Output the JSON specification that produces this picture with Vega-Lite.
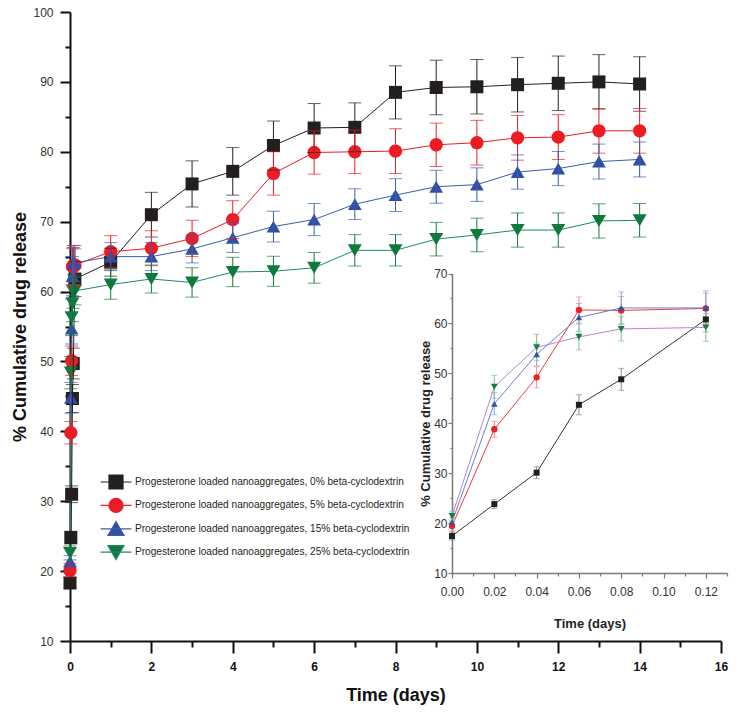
{
  "$schema": "https://vega.github.io/schema/vega-lite/v6.json",
  "autosize": {"type": "none"},
  "width": 651,
  "height": 629,
  "padding": {"left": 70, "top": 12, "right": 15, "bottom": 71},
  "background": "white",
  "config": {"font": "Liberation Sans", "view": {"stroke": null}, "axis": {"grid": false, "labelFlush": false, "labelOverlap": false}},
  "datasets": {
    "main": [
      {"s":"0%","t":0,"v":18.3,"e":0.8},{"s":"0%","t":0.02,"v":24.8,"e":0.9},{"s":"0%","t":0.04,"v":31.0,"e":1.2},{"s":"0%","t":0.06,"v":44.7,"e":2.0},{"s":"0%","t":0.08,"v":49.7,"e":2.2},{"s":"0%","t":0.12,"v":61.8,"e":2.5},
      {"s":"0%","t":1,"v":64.2,"e":2.0},{"s":"0%","t":2,"v":71.0,"e":3.2},{"s":"0%","t":3,"v":75.4,"e":3.3},{"s":"0%","t":4,"v":77.2,"e":3.4},{"s":"0%","t":5,"v":80.9,"e":3.5},{"s":"0%","t":6,"v":83.4,"e":3.5},{"s":"0%","t":7,"v":83.5,"e":3.5},{"s":"0%","t":8,"v":88.5,"e":3.8},{"s":"0%","t":9,"v":89.2,"e":3.9},{"s":"0%","t":10,"v":89.3,"e":3.9},{"s":"0%","t":11,"v":89.6,"e":3.9},{"s":"0%","t":12,"v":89.8,"e":3.9},{"s":"0%","t":13,"v":90.0,"e":3.9},{"s":"0%","t":14,"v":89.7,"e":3.9},
      {"s":"5%","t":0,"v":20.1,"e":1.0},{"s":"5%","t":0.02,"v":39.8,"e":1.6},{"s":"5%","t":0.04,"v":50.1,"e":2.1},{"s":"5%","t":0.06,"v":63.6,"e":2.6},{"s":"5%","t":0.08,"v":63.5,"e":2.8},{"s":"5%","t":0.12,"v":63.8,"e":2.8},
      {"s":"5%","t":1,"v":65.7,"e":2.3},{"s":"5%","t":2,"v":66.2,"e":2.5},{"s":"5%","t":3,"v":67.6,"e":2.6},{"s":"5%","t":4,"v":70.3,"e":2.7},{"s":"5%","t":5,"v":76.9,"e":3.1},{"s":"5%","t":6,"v":79.9,"e":3.1},{"s":"5%","t":7,"v":80.0,"e":3.1},{"s":"5%","t":8,"v":80.1,"e":3.2},{"s":"5%","t":9,"v":81.0,"e":3.1},{"s":"5%","t":10,"v":81.3,"e":3.2},{"s":"5%","t":11,"v":82.0,"e":3.2},{"s":"5%","t":12,"v":82.1,"e":3.2},{"s":"5%","t":13,"v":83.0,"e":3.2},{"s":"5%","t":14,"v":83.0,"e":3.2},
      {"s":"15%","t":0,"v":21.4,"e":0.8},{"s":"15%","t":0.02,"v":44.8,"e":2.2},{"s":"15%","t":0.04,"v":54.7,"e":2.2},{"s":"15%","t":0.06,"v":62.2,"e":2.8},{"s":"15%","t":0.08,"v":64.0,"e":2.6},{"s":"15%","t":0.12,"v":64.1,"e":2.0},
      {"s":"15%","t":1,"v":65.0,"e":2.0},{"s":"15%","t":2,"v":65.0,"e":2.0},{"s":"15%","t":3,"v":66.1,"e":2.0},{"s":"15%","t":4,"v":67.7,"e":2.1},{"s":"15%","t":5,"v":69.3,"e":2.2},{"s":"15%","t":6,"v":70.3,"e":2.3},{"s":"15%","t":7,"v":72.5,"e":2.2},{"s":"15%","t":8,"v":73.8,"e":2.35},{"s":"15%","t":9,"v":75.0,"e":2.35},{"s":"15%","t":10,"v":75.3,"e":2.4},{"s":"15%","t":11,"v":77.1,"e":2.45},{"s":"15%","t":12,"v":77.6,"e":2.45},{"s":"15%","t":13,"v":78.6,"e":2.5},{"s":"15%","t":14,"v":78.9,"e":2.5},
      {"s":"25%","t":0,"v":22.6,"e":1.0},{"s":"25%","t":0.02,"v":48.4,"e":2.3},{"s":"25%","t":0.04,"v":56.3,"e":2.6},{"s":"25%","t":0.06,"v":58.3,"e":2.6},{"s":"25%","t":0.08,"v":60.0,"e":2.4},{"s":"25%","t":0.12,"v":60.1,"e":2.0},
      {"s":"25%","t":1,"v":61.0,"e":2.1},{"s":"25%","t":2,"v":61.8,"e":2.0},{"s":"25%","t":3,"v":61.3,"e":2.1},{"s":"25%","t":4,"v":62.8,"e":2.1},{"s":"25%","t":5,"v":62.9,"e":2.15},{"s":"25%","t":6,"v":63.4,"e":2.2},{"s":"25%","t":7,"v":65.9,"e":2.25},{"s":"25%","t":8,"v":65.9,"e":2.25},{"s":"25%","t":9,"v":67.5,"e":2.4},{"s":"25%","t":10,"v":68.1,"e":2.4},{"s":"25%","t":11,"v":68.8,"e":2.45},{"s":"25%","t":12,"v":68.8,"e":2.45},{"s":"25%","t":13,"v":70.1,"e":2.45},{"s":"25%","t":14,"v":70.2,"e":2.4}
    ],
    "inset": [
      {"s":"0%","t":0,"v":17.4,"e":0.8},{"s":"0%","t":0.02,"v":23.8,"e":0.9},{"s":"0%","t":0.04,"v":30.1,"e":1.2},{"s":"0%","t":0.06,"v":43.7,"e":2.0},{"s":"0%","t":0.08,"v":48.8,"e":2.2},{"s":"0%","t":0.12,"v":60.8,"e":2.5},
      {"s":"5%","t":0,"v":19.4,"e":1.0},{"s":"5%","t":0.02,"v":38.8,"e":1.6},{"s":"5%","t":0.04,"v":49.2,"e":2.1},{"s":"5%","t":0.06,"v":62.7,"e":2.6},{"s":"5%","t":0.08,"v":62.6,"e":2.8},{"s":"5%","t":0.12,"v":63.0,"e":3.0},
      {"s":"15%","t":0,"v":20.2,"e":0.9},{"s":"15%","t":0.02,"v":43.9,"e":2.2},{"s":"15%","t":0.04,"v":53.8,"e":2.3},{"s":"15%","t":0.06,"v":61.2,"e":2.8},{"s":"15%","t":0.08,"v":63.1,"e":3.2},{"s":"15%","t":0.12,"v":63.1,"e":3.4},
      {"s":"25%","t":0,"v":21.4,"e":1.0},{"s":"25%","t":0.02,"v":47.3,"e":2.3},{"s":"25%","t":0.04,"v":55.2,"e":2.6},{"s":"25%","t":0.06,"v":57.3,"e":2.6},{"s":"25%","t":0.08,"v":58.9,"e":2.4},{"s":"25%","t":0.12,"v":59.2,"e":2.8}
    ]
  },
  "layer": [
    {
      "data": {"name": "main"},
      "layer": [
        {
          "mark": {"type": "line", "strokeWidth": 1},
          "encoding": {
            "x": {"field": "t", "type": "quantitative", "scale": {"domain": [0, 16], "nice": false, "zero": false},
              "axis": {"orient": "bottom", "values": [0,2,4,6,8,10,12,14,16],
                "tickSize": 12, "tickWidth": 2, "domainWidth": 2, "domainColor": "#111111", "tickColor": "#111111",
                "labelFontWeight": "bold", "labelFontSize": 12, "labelColor": "#111111", "labelPadding": 8,
                "title": "Time (days)", "titleFontSize": 18, "titleFontWeight": "bold", "titleColor": "#111111", "titlePadding": 14}},
            "y": {"field": "v", "type": "quantitative", "scale": {"domain": [10, 100], "nice": false, "zero": false},
              "axis": {"orient": "left", "values": [10,20,30,40,50,60,70,80,90,100],
                "tickSize": 10, "tickWidth": 2, "domainWidth": 2, "domainColor": "#111111", "tickColor": "#111111",
                "labelFontSize": 12, "labelColor": "#333333", "labelPadding": 7,
                "title": "% Cumulative drug release", "titleFontSize": 18, "titleFontWeight": "bold", "titleColor": "#111111", "titlePadding": 3}},
            "stroke": {"field": "s", "type": "nominal", "scale": {"domain": ["0%","5%","15%","25%"], "range": ["#231f20","#ed1c24","#3d5bb0","#1b8a6b"]}, "legend": null}
          }
        },
        {
          "mark": {"type": "point", "filled": true, "opacity": 1},
          "encoding": {
            "x": {"field": "t", "type": "quantitative", "scale": {"domain": [0, 16], "nice": false, "zero": false},
              "axis": {"orient": "bottom", "values": [1,3,5,7,9,11,13,15], "tickSize": 6, "tickWidth": 2, "tickColor": "#111111", "domain": false, "labels": false, "title": null}},
            "y": {"field": "v", "type": "quantitative", "scale": {"domain": [10, 100], "nice": false, "zero": false},
              "axis": {"orient": "left", "values": [15,25,35,45,55,65,75,85,95], "tickSize": 5, "tickWidth": 2, "tickColor": "#111111", "domain": false, "labels": false, "title": null}},
            "fill": {"field": "s", "type": "nominal", "scale": {"domain": ["0%","5%","15%","25%"], "range": ["#231f20","#ed1c24","#2e4fa3","#0f7a3c"]}, "legend": null},
            "shape": {"field": "s", "type": "nominal", "scale": {"domain": ["0%","5%","15%","25%"], "range": ["square","circle","triangle-up","triangle-down"]}, "legend": null},
            "size": {"field": "s", "type": "nominal", "scale": {"domain": ["0%","5%","15%","25%"], "range": [169,196,256,256]}, "legend": null}
          }
        },
        {
          "mark": {"type": "errorbar", "ticks": {"size": 13}, "thickness": 1},
          "encoding": {
            "x": {"field": "t", "type": "quantitative", "scale": {"domain": [0, 16], "nice": false, "zero": false}, "axis": null},
            "y": {"field": "v", "type": "quantitative", "scale": {"domain": [10, 100], "nice": false, "zero": false}, "axis": null},
            "yError": {"field": "e"},
            "color": {"field": "s", "type": "nominal", "scale": {"domain": ["0%","5%","15%","25%"], "range": ["#231f20","#ed1c24","#3d5bb0","#0f7a3c"]}, "legend": null}
          }
        },
        {
          "mark": {"type": "point", "filled": true, "opacity": 0, "size": 196},
          "encoding": {
            "x": {"field": "t", "type": "quantitative", "scale": {"domain": [0, 16], "nice": false, "zero": false}, "axis": null},
            "y": {"field": "v", "type": "quantitative", "scale": {"domain": [10, 100], "nice": false, "zero": false}, "axis": null},
            "fill": {"field": "s", "type": "nominal", "scale": {"domain": ["0%","5%","15%","25%"], "range": ["#231f20","#ed1c24","#2e4fa3","#0f7a3c"]},
              "legend": {"title": null, "orient": "none", "legendX": 38, "legendY": 462, "padding": 0, "rowPadding": 3.4, "symbolStrokeWidth": 1.2, "symbolSize": 196, "symbolOpacity": 1, "labelOffset": 11, "labelFontSize": 10.1, "labelFont": "Liberation Sans", "labelColor": "#231f20", "labelLimit": 400, "labelExpr": "'Progesterone loaded nanoaggregates, ' + datum.label + ' beta-cyclodextrin'"}},
            "stroke": {"field": "s", "type": "nominal", "scale": {"domain": ["0%","5%","15%","25%"], "range": ["#231f20","#ed1c24","#3d5bb0","#1b8a6b"]},
              "legend": {"title": null, "orient": "none", "legendX": 38, "legendY": 462, "padding": 0, "rowPadding": 3.4, "symbolStrokeWidth": 1.2, "symbolSize": 196, "symbolOpacity": 1, "labelOffset": 11, "labelFontSize": 10.1, "labelFont": "Liberation Sans", "labelColor": "#231f20", "labelLimit": 400, "labelExpr": "'Progesterone loaded nanoaggregates, ' + datum.label + ' beta-cyclodextrin'"}},
            "shape": {"field": "s", "type": "nominal", "scale": {"domain": ["0%","5%","15%","25%"], "range": ["M-2.2,0H2.2M-1,-1H1V1H-1Z", "M-2.2,0H2.2M-1,0A1,1,0,1,0,1,0A1,1,0,1,0,-1,0Z", "M-2.2,0H2.2M0,-1.05L1.15,0.95H-1.15Z", "M-2.2,0H2.2M0,1.05L1.15,-0.95H-1.15Z"]},
              "legend": {"title": null, "orient": "none", "legendX": 38, "legendY": 462, "padding": 0, "rowPadding": 3.4, "symbolStrokeWidth": 1.2, "symbolSize": 196, "symbolOpacity": 1, "labelOffset": 11, "labelFontSize": 10.1, "labelFont": "Liberation Sans", "labelColor": "#231f20", "labelLimit": 400, "labelExpr": "'Progesterone loaded nanoaggregates, ' + datum.label + ' beta-cyclodextrin'"}}
          }
        }
      ],
      "resolve": {"scale": {"fill": "independent", "stroke": "independent", "color": "independent", "shape": "independent", "size": "independent"}, "axis": {"x": "independent", "y": "independent"}}
    },
    {
      "data": {"name": "inset"},
      "layer": [
        {
          "mark": {"type": "line", "strokeWidth": 1},
          "encoding": {
            "x": {"field": "t", "type": "quantitative", "scale": {"domain": [0, 0.13], "range": [382, 657], "nice": false, "zero": false},
              "axis": {"orient": "bottom", "offset": -68, "values": [0,0.02,0.04,0.06,0.08,0.1,0.12], "format": ".2f",
                "tickSize": 5, "tickWidth": 1.2, "domainWidth": 1.5, "domainColor": "#7a7a7a", "tickColor": "#7a7a7a",
                "labelFontSize": 12, "labelColor": "#333333", "labelPadding": 8,
                "title": "Time (days)", "titleFontSize": 13, "titleFontWeight": "bold", "titleColor": "#222222", "titlePadding": 20}},
            "y": {"field": "v", "type": "quantitative", "scale": {"domain": [10, 70], "range": [561, 261.5], "nice": false, "zero": false},
              "axis": {"orient": "left", "offset": -382, "values": [10,20,30,40,50,60,70],
                "tickSize": 4, "tickWidth": 1.2, "domainWidth": 1.5, "domainColor": "#7a7a7a", "tickColor": "#7a7a7a",
                "labelFontSize": 12, "labelColor": "#333333", "labelPadding": 1,
                "title": "% Cumulative drug release", "titleFontSize": 13, "titleFontWeight": "bold", "titleColor": "#222222", "titlePadding": 1}},
            "stroke": {"field": "s", "type": "nominal", "scale": {"domain": ["0%","5%","15%","25%"], "range": ["#333333","#ee3a3f","#6a7fc8","#b784c8"]}, "legend": null}
          }
        },
        {
          "mark": {"type": "errorbar", "ticks": {"size": 6}, "thickness": 1},
          "encoding": {
            "x": {"field": "t", "type": "quantitative", "scale": {"domain": [0, 0.13], "range": [382, 657], "nice": false, "zero": false}, "axis": null},
            "y": {"field": "v", "type": "quantitative", "scale": {"domain": [10, 70], "range": [561, 261.5], "nice": false, "zero": false}, "axis": null},
            "yError": {"field": "e"},
            "color": {"field": "s", "type": "nominal", "scale": {"domain": ["0%","5%","15%","25%"], "range": ["#8a8a8a","#f28c8f","#8ea2d8","#7fbf95"]}, "legend": null}
          }
        },
        {
          "mark": {"type": "point", "filled": true, "opacity": 1},
          "encoding": {
            "x": {"field": "t", "type": "quantitative", "scale": {"domain": [0, 0.13], "range": [382, 657], "nice": false, "zero": false},
              "axis": {"orient": "bottom", "offset": -68, "values": [0.01,0.03,0.05,0.07,0.09,0.11,0.13], "tickSize": 3, "tickWidth": 1.2, "tickColor": "#7a7a7a", "domain": false, "labels": false, "title": null}},
            "y": {"field": "v", "type": "quantitative", "scale": {"domain": [10, 70], "range": [561, 261.5], "nice": false, "zero": false},
              "axis": {"orient": "left", "offset": -382, "values": [15,25,35,45,55,65], "tickSize": 2, "tickWidth": 1.2, "tickColor": "#7a7a7a", "domain": false, "labels": false, "title": null}},
            "fill": {"field": "s", "type": "nominal", "scale": {"domain": ["0%","5%","15%","25%"], "range": ["#231f20","#e8232b","#3452a6","#137d42"]}, "legend": null},
            "shape": {"field": "s", "type": "nominal", "scale": {"domain": ["0%","5%","15%","25%"], "range": ["square","circle","triangle-up","triangle-down"]}, "legend": null},
            "size": {"field": "s", "type": "nominal", "scale": {"domain": ["0%","5%","15%","25%"], "range": [36,49,60,60]}, "legend": null}
          }
        }
      ],
      "resolve": {"axis": {"x": "independent", "y": "independent"}}
    }
  ],
  "resolve": {
    "scale": {"x": "independent", "y": "independent", "fill": "independent", "stroke": "independent", "color": "independent", "shape": "independent", "size": "independent"},
    "axis": {"x": "independent", "y": "independent"}
  }
}
